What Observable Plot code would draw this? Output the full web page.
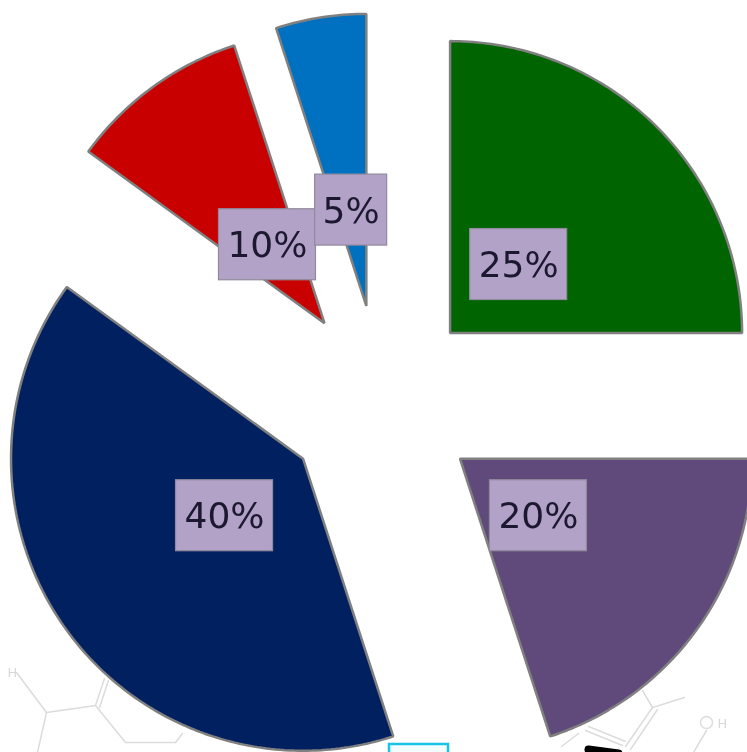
<!DOCTYPE html>
<html>
<head>
<meta charset="utf-8">
<style>html,body{margin:0;padding:0;background:#fff;overflow:hidden}svg{display:block}</style>
<script src="https://cdn.jsdelivr.net/npm/d3@7"></script>
<script src="https://cdn.jsdelivr.net/npm/@observablehq/plot@0.6"></script>
</head>
<body>
<script>
const labels = ["25%", "20%", "40%", "10%", "5%"];
const values = [25, 20, 40, 10, 5];
const colors = ["#006400", "#604a7b", "#002060", "#c80000", "#0070c0"];

// Faint structure fragments behind the pie (page pixels)
const traceLines = [
  [[16, 672], [46, 712], [95, 705], [125, 742], [175, 742]],
  [[46, 712], [37, 752]],
  [[95, 705], [104, 678]],
  [[99, 707], [108, 680]],
  [[175, 742], [182, 733]],
  [[642, 690], [652, 707], [684, 697]],
  [[652, 707], [625, 746]],
  [[657, 709], [630, 749]],
  [[585, 730], [622, 745]],
  [[588, 726], [625, 741]],
  [[561, 746], [578, 733]],
  [[706, 730], [693, 752]]
];
const traceText = [
  {t: "H", x: 12, y: 672},
  {t: "H", x: 722, y: 723}
];
const smudge = [[588, 749], [618, 753]];

const W = 747, H = 752, R = 292, CX = 381, CY = 401.2, EXPLODE = 97 / R, LABEL_R = 194 / R;
const xs = px => (px - CX) / R;
const ys = py => (CY - py) / R;

const total = d3.sum(values);
let acc = 0;
const slices = values.map((v, i) => {
  const a0 = acc / total * 2 * Math.PI;
  acc += v;
  const a1 = acc / total * 2 * Math.PI;
  return {i, v, a0, a1, mid: (a0 + a1) / 2, label: labels[i], color: colors[i]};
});

const outline = slices.flatMap(s => {
  const ox = EXPLODE * Math.sin(s.mid), oy = EXPLODE * Math.cos(s.mid);
  const n = Math.ceil(s.v * 4);
  const pts = [{i: s.i, color: s.color, x: ox, y: oy}];
  for (let k = 0; k <= n; k++) {
    const a = s.a0 + (s.a1 - s.a0) * k / n;
    pts.push({i: s.i, color: s.color, x: ox + Math.sin(a), y: oy + Math.cos(a)});
  }
  return pts;
});

const boxH = 71 / R;
const boxes = slices.map(s => {
  const w = (s.label.length === 2 ? 72 : 97) / R;
  const x = LABEL_R * Math.sin(s.mid), y = LABEL_R * Math.cos(s.mid);
  return {label: s.label, x, y, x1: x - w / 2, x2: x + w / 2, y1: y - boxH / 2, y2: y + boxH / 2};
});

const traceData = traceLines.flatMap((l, i) => l.map(([a, b]) => ({i, x: xs(a), y: ys(b)})));

const chart = Plot.plot({
  width: W,
  height: H,
  margin: 0,
  style: {background: "#fff", filter: "blur(0.7px)"},
  x: {domain: [xs(0), xs(W)], range: [0, W], axis: null},
  y: {domain: [ys(0), ys(H)], range: [0, H], axis: null},
  marks: [
    Plot.line(traceData, {x: "x", y: "y", z: "i", stroke: "#dcdcdc", strokeWidth: 1.5}),
    Plot.text(traceText, {x: d => xs(d.x), y: d => ys(d.y), text: "t", fill: "#d8d8d8", fontSize: 13, fontFamily: "DejaVu Sans"}),
    Plot.dot([{x: xs(706), y: ys(722)}], {x: "x", y: "y", r: 6, stroke: "#dcdcdc", strokeWidth: 1.5}),
    Plot.rect([{x1: xs(389), x2: xs(448), y1: ys(744), y2: ys(756)}], {x1: "x1", x2: "x2", y1: "y1", y2: "y2", fill: "#f2fdff", stroke: "#19c3e6", strokeWidth: 2.5}),
    Plot.line(smudge.map(([a, b]) => ({x: xs(a), y: ys(b)})), {x: "x", y: "y", stroke: "#000", strokeWidth: 8, strokeLinecap: "round"}),
    Plot.line(outline, {x: "x", y: "y", z: "i", fill: "color", stroke: "#808080", strokeWidth: 2.5, curve: "linear-closed", strokeLinejoin: "miter"}),
    Plot.rect(boxes, {x1: "x1", x2: "x2", y1: "y1", y2: "y2", fill: "#b3a2c7", stroke: "#8f8a9c", strokeWidth: 1.2}),
    Plot.text(boxes, {x: "x", y: "y", text: "label", fill: "#1c1830", fontSize: 36, fontFamily: "DejaVu Sans", dy: 1})
  ]
});
document.body.appendChild(chart);
</script>
</body>
</html>
